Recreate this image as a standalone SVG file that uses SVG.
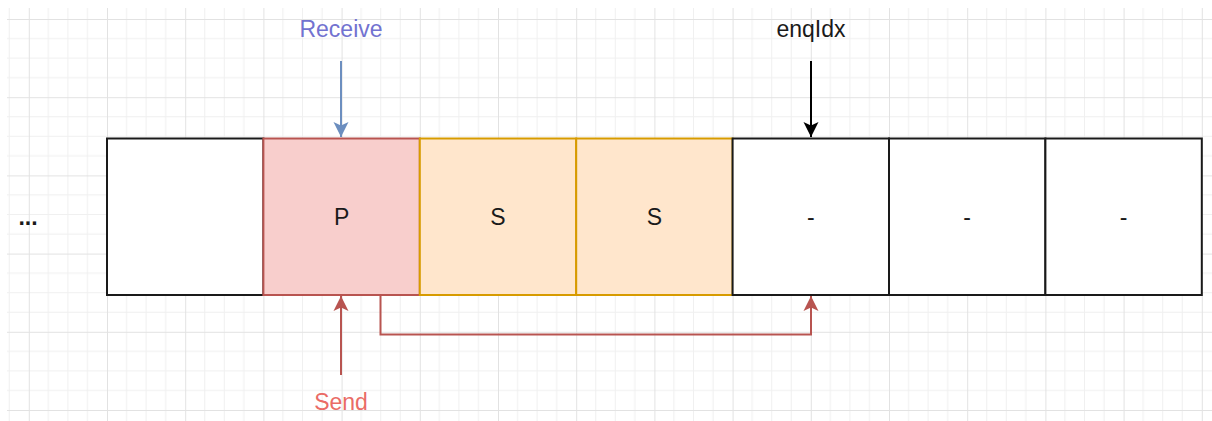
<svg xmlns="http://www.w3.org/2000/svg" width="1212" height="421" viewBox="0 0 1212 421">
  <defs>
    <!-- background grid: minor every 19.55, major every 78.2 -->
    <pattern id="grid" patternUnits="userSpaceOnUse" x="28.8" y="19" width="78.2" height="78.2">
      <path d="M19.55 0V78.2M39.1 0V78.2M58.65 0V78.2M0 19.55H78.2M0 39.1H78.2M0 58.65H78.2" stroke="#f0f0f0" stroke-width="1" fill="none"/>
      <path d="M0.5 0V78.2M0 0.5H78.2" stroke="#e2e2e2" stroke-width="1" fill="none"/>
    </pattern>
    <marker id="arrBlue" markerUnits="userSpaceOnUse" markerWidth="18" markerHeight="18" refX="15" refY="8" orient="auto" viewBox="0 0 18 16">
      <path d="M0 0.5L15 8L0 15.5L3.5 8Z" fill="#6c8ebf"/>
    </marker>
    <marker id="arrBlack" markerUnits="userSpaceOnUse" markerWidth="18" markerHeight="18" refX="15" refY="8" orient="auto" viewBox="0 0 18 16">
      <path d="M0 0.5L15 8L0 15.5L3.5 8Z" fill="#000000"/>
    </marker>
    <marker id="arrRed" markerUnits="userSpaceOnUse" markerWidth="18" markerHeight="18" refX="15" refY="8" orient="auto" viewBox="0 0 18 16">
      <path d="M0 0.5L15 8L0 15.5L3.5 8Z" fill="#b85450"/>
    </marker>
  </defs>
  <style>
    text { font-family: "Liberation Sans", Arial, sans-serif; font-size: 23px; text-anchor: middle; }
    .cell { stroke-width: 2; }
    .empty { fill: #ffffff; stroke: #1a1a1a; }
    .head { fill: #f8cecc; stroke: #b85450; }
    .slot { fill: #ffe6cc; stroke: #d79b00; }
    .lbl { fill: #1a1a1a; }
    .conn { fill: none; stroke-width: 2; }
  </style>

  <rect x="0" y="0" width="1212" height="421" fill="#ffffff"/>
  <rect x="7" y="8" width="1205" height="413" fill="url(#grid)"/>

  <g id="ellipsis">
    <text x="28" y="225" style="font-weight:bold" class="lbl">...</text>
  </g>

  <g id="cell-0">
    <rect class="cell empty" x="107" y="138.5" width="156.4" height="156.5"/>
  </g>
  <g id="cell-p">
    <rect class="cell head" x="263.4" y="138.5" width="156.4" height="156.5"/>
    <text x="341.6" y="225" class="lbl">P</text>
  </g>
  <g id="cell-s1">
    <rect class="cell slot" x="419.8" y="138.5" width="156.4" height="156.5"/>
    <text x="498" y="225" class="lbl">S</text>
  </g>
  <g id="cell-s2">
    <rect class="cell slot" x="576.2" y="138.5" width="156.4" height="156.5"/>
    <text x="654.4" y="225" class="lbl">S</text>
  </g>
  <g id="cell-e1">
    <rect class="cell empty" x="732.6" y="138.5" width="156.4" height="156.5"/>
    <text x="810.8" y="225" class="lbl">-</text>
  </g>
  <g id="cell-e2">
    <rect class="cell empty" x="889" y="138.5" width="156.4" height="156.5"/>
    <text x="967.2" y="225" class="lbl">-</text>
  </g>
  <g id="cell-e3">
    <rect class="cell empty" x="1045.4" y="138.5" width="156.4" height="156.5"/>
    <text x="1123.6" y="225" class="lbl">-</text>
  </g>

  <g id="label-receive">
    <text x="341" y="37" fill="#7272d0">Receive</text>
  </g>
  <g id="label-enqidx">
    <text x="811" y="37" fill="#1a1a1a">enqIdx</text>
  </g>
  <g id="label-send">
    <text x="341" y="410" fill="#ea6b66">Send</text>
  </g>

  <g id="connectors">
    <path class="conn" d="M341 61V137" stroke="#6c8ebf" marker-end="url(#arrBlue)"/>
    <path class="conn" d="M811 61V137" stroke="#000000" marker-end="url(#arrBlack)"/>
    <path class="conn" d="M341 375V296" stroke="#b85450" marker-end="url(#arrRed)"/>
    <path class="conn" d="M380.5 295V334.5H811V296" stroke="#b85450" marker-end="url(#arrRed)"/>
  </g>
</svg>
